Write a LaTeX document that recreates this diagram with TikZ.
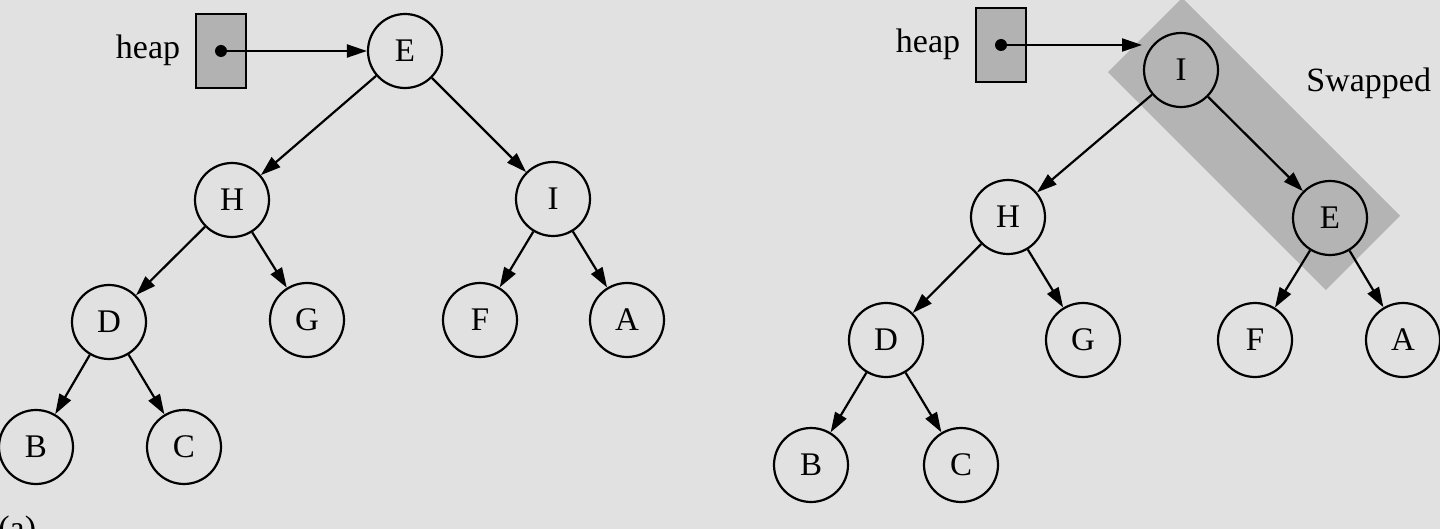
\documentclass[tikz,border=0pt]{standalone}
\usepackage{fontspec}
\setmainfont{Liberation Serif}
\usetikzlibrary{arrows.meta}
\definecolor{bg}{RGB}{225,225,225}
\definecolor{bandgray}{RGB}{180,180,180}
\definecolor{boxgray}{RGB}{178,178,178}
\tikzset{
  vert/.style={circle, draw=black, line width=1.1pt, fill=bg, minimum size=37pt, inner sep=0pt, font=\fontsize{16.5}{19}\selectfont},
  hvert/.style={vert, fill=none},
  edge/.style={line width=1.1pt, -{Triangle[length=10pt,width=6.5pt]}},
  ptrbox/.style={draw=black, line width=1.1pt, fill=boxgray, minimum width=25pt, minimum height=37pt, inner sep=0pt},
  lbl/.style={font=\fontsize{17}{20}\selectfont, inner sep=0pt},
  dotnode/.style={circle, fill=black, minimum size=6pt, inner sep=0pt}
}
\begin{document}
\begin{tikzpicture}[x=0.5pt,y=-0.5pt]
\fill[bg] (0,0) rectangle (1440,529);
\useasboundingbox (0,0) rectangle (1440,529);
% swapped band
\node[fill=bandgray, minimum width=154pt, minimum height=52.5pt, inner sep=0pt, rotate=-45] (band) at (1254,144) {};
% ---------- left tree ----------
\node[lbl] (heapL) at (148,50) {heap};
\node[ptrbox] (boxL) at (221,51) {};
\node[dotnode] (dotL) at (221,51) {};
\node[vert] (E) at (405,51) {E};
\node[vert] (H) at (232,200) {H};
\node[vert] (I) at (553,199) {I};
\node[vert] (D) at (109,322) {D};
\node[vert] (G) at (307,320) {G};
\node[vert] (F) at (480,320) {F};
\node[vert] (A) at (627,320) {A};
\node[vert] (B) at (36,447) {B};
\node[vert] (C) at (184,447) {C};
\draw[edge] (dotL.center) -- (E);
\draw[edge] (E) -- (H);
\draw[edge] (E) -- (I);
\draw[edge] (H) -- (D);
\draw[edge] (H) -- (G);
\draw[edge] (I) -- (F);
\draw[edge] (I) -- (A);
\draw[edge] (D) -- (B);
\draw[edge] (D) -- (C);
\node[lbl, anchor=west] (capA) at (-2,531) {(a)};
% ---------- right tree ----------
\node[lbl] (heapR) at (928,44) {heap};
\node[ptrbox] (boxR) at (1001,45) {};
\node[dotnode] (dotR) at (1001,45) {};
\coordinate (tipR) at (1142,45);
\node[hvert] (I2) at (1181,70) {I};
\node[vert] (H2) at (1008,217) {H};
\node[hvert] (E2) at (1330,218) {E};
\node[vert] (D2) at (886,340) {D};
\node[vert] (G2) at (1083,340) {G};
\node[vert] (F2) at (1255,340) {F};
\node[vert] (A2) at (1403,340) {A};
\node[vert] (B2) at (811,465) {B};
\node[vert] (C2) at (961,465) {C};
\node[lbl, anchor=west] (swp) at (1306,83) {Swapped};
\draw[edge] (dotR.center) -- (tipR);
\draw[edge] (I2) -- (H2);
\draw[edge] (I2) -- (E2);
\draw[edge] (H2) -- (D2);
\draw[edge] (H2) -- (G2);
\draw[edge] (E2) -- (F2);
\draw[edge] (E2) -- (A2);
\draw[edge] (D2) -- (B2);
\draw[edge] (D2) -- (C2);
\end{tikzpicture}
\end{document}
